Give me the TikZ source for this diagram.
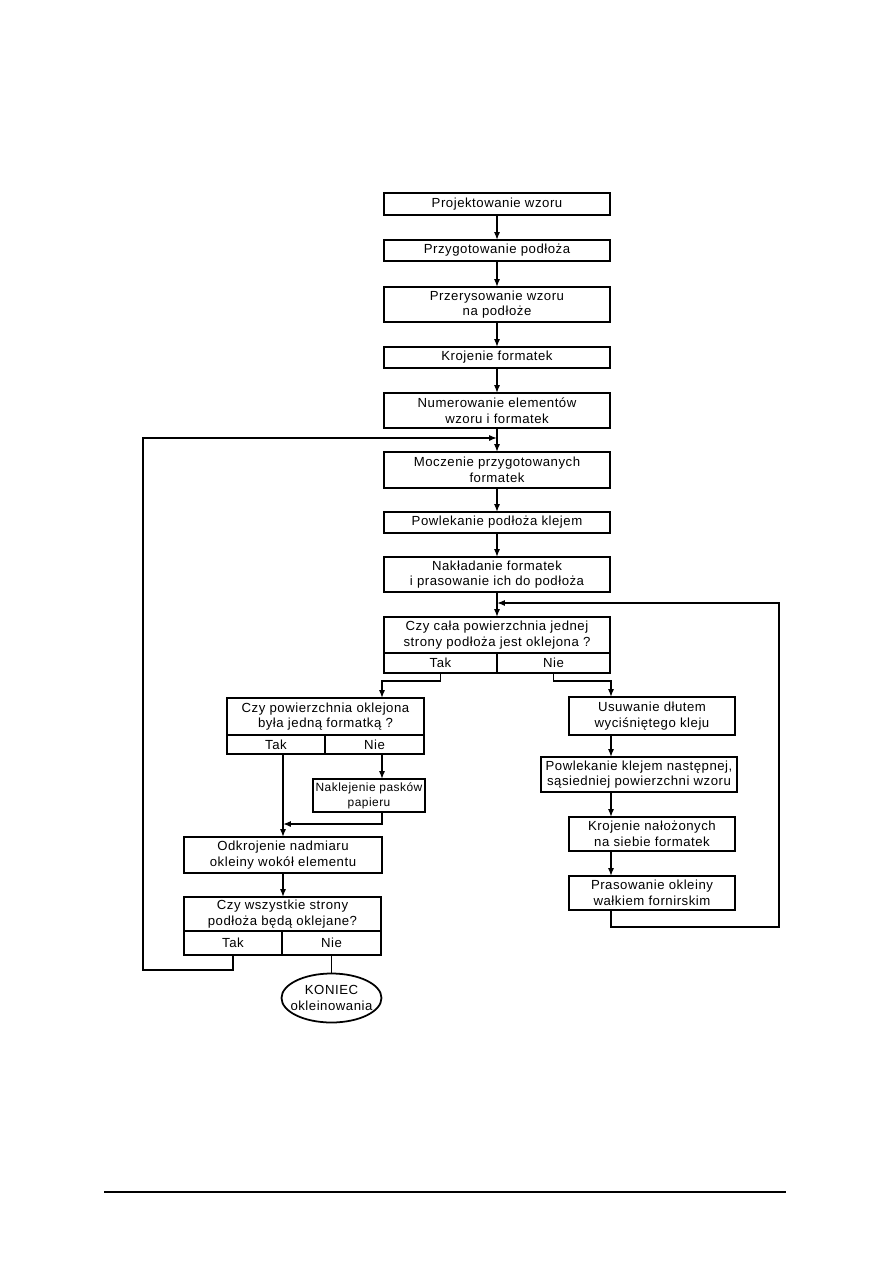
\documentclass[tikz,border=0pt]{standalone}
\usepackage{fontspec}
\setmainfont[LetterSpace=4]{Liberation Sans}
\usepackage{tikz}
\usetikzlibrary{shapes.geometric, arrows.meta, positioning, calc}

\newcommand{\lett}{\fontsize{7.5}{9}\selectfont}
\newcommand{\smalllett}{\fontsize{6.8}{8.5}\selectfont}

\begin{document}
\begin{tikzpicture}[x=0.02cm, y=-0.02cm,
    box/.style={rectangle, draw, line width=1.2pt, inner xsep=1pt, inner ysep=0pt, outer sep=0pt, align=center, font=\lett},
    endbox/.style={ellipse, draw, line width=1pt, inner xsep=-5pt, inner ysep=0pt, outer sep=0pt, align=center, font=\lett},
    link/.style={line width=0.9pt},
    arr/.style={link, -{Latex[length=4.5pt,width=3.5pt]}}
  ]
    \useasboundingbox (0,0) rectangle (893,1263);

    % main column
    \node[box, minimum width=4.52cm, minimum height=0.44cm] (proj) at (497,204) {Projektowanie wzoru};
    \node[box, minimum width=4.52cm, minimum height=0.42cm] (przyg) at (497,250.5) {Przygotowanie podłoża};
    \node[box, minimum width=4.52cm, minimum height=0.70cm] (przer) at (497,304.5) {Przerysowanie wzoru\\na podłoże};
    \node[box, minimum width=4.52cm, minimum height=0.42cm] (kroj) at (497,357.5) {Krojenie formatek};
    \node[box, minimum width=4.52cm, minimum height=0.70cm] (numer) at (497,410.5) {Numerowanie elementów\\wzoru i formatek};
    \node[box, minimum width=4.52cm, minimum height=0.72cm] (mocz) at (497,470) {Moczenie przygotowanych\\formatek};
    \node[box, minimum width=4.52cm, minimum height=0.42cm] (powl) at (497,522.5) {Powlekanie podłoża klejem};
    \node[box, minimum width=4.52cm, minimum height=0.70cm] (nakl) at (497,574.5) {Nakładanie formatek\\i prasowanie ich do podłoża};
    \node[box, minimum width=4.52cm, minimum height=0.72cm] (czy1) at (497,635) {Czy cała powierzchnia jednej\\strony podłoża jest oklejona ?};
    \node[box, minimum width=2.26cm, minimum height=0.40cm] (tak1) at (440.5,663) {Tak};
    \node[box, minimum width=2.26cm, minimum height=0.40cm] (nie1) at (553.5,663) {Nie};

    % left branch
    \node[box, minimum width=3.94cm, minimum height=0.74cm] (czy2) at (325.5,716.5) {Czy powierzchnia oklejona\\była jedną formatką ?};
    \node[box, minimum width=1.96cm, minimum height=0.38cm] (tak2) at (276,744.5) {Tak};
    \node[box, minimum width=1.98cm, minimum height=0.38cm] (nie2) at (374.5,744.5) {Nie};
    \node[box, minimum width=2.24cm, minimum height=0.66cm, font=\smalllett] (pask) at (369,795.5) {Naklejenie pasków\\papieru};
    \node[box, minimum width=3.96cm, minimum height=0.72cm] (odkr) at (283,855) {Odkrojenie nadmiaru\\okleiny wokół elementu};
    \node[box, minimum width=3.94cm, minimum height=0.68cm] (czy3) at (282.5,914) {Czy wszystkie strony\\podłoża będą oklejane?};
    \node[box, minimum width=1.96cm, minimum height=0.48cm] (tak3) at (233,943) {Tak};
    \node[box, minimum width=1.98cm, minimum height=0.48cm] (nie3) at (331.5,943) {Nie};
    \node[endbox, minimum width=2.0cm, minimum height=0.98cm] (koniec) at (331.5,998) {KONIEC\\okleinowania};

    % right branch
    \node[box, minimum width=3.32cm, minimum height=0.76cm] (usun) at (652,716) {Usuwanie dłutem\\wyciśniętego kleju};
    \node[box, minimum width=3.92cm, minimum height=0.70cm] (powk) at (639,774.5) {Powlekanie klejem następnej,\\sąsiedniej powierzchni wzoru};
    \node[box, minimum width=3.32cm, minimum height=0.68cm] (kron) at (652,834) {Krojenie nałożonych\\na siebie formatek};
    \node[box, minimum width=3.32cm, minimum height=0.68cm] (pras) at (652,893) {Prasowanie okleiny\\wałkiem fornirskim};

    % connectors
    \draw[arr] (proj) -- (przyg);
    \draw[arr] (przyg) -- (przer);
    \draw[arr] (przer) -- (kroj);
    \draw[arr] (kroj) -- (numer);
    \draw[arr] (numer) -- (mocz);
    \draw[arr] (mocz) -- (powl);
    \draw[arr] (powl) -- (nakl);
    \draw[arr] (nakl) -- (czy1);
    \draw[arr] (tak1.south) -- ++(0,8) -| ($(czy2.north)+(56.5,0)$);
    \draw[arr] (nie1.south) -- ++(0,8) -| ($(usun.north)+(-41,0)$);
    \draw[arr] ($(nie2.south)+(7.5,0)$) -- ($(pask.north)+(13,0)$);
    \draw[arr] ($(tak2.south)+(7,0)$) -- (odkr.north);
    \draw[arr] ($(pask.south)+(13,0)$) |- ($(odkr.north)+(0,-13)$);
    \draw[arr] (odkr.south) -- (odkr.south |- czy3.north);
    \draw[arr] (tak3.south) -- ++(0,15) -- ++(-90,0) |- ($(mocz.north)+(0,-14)$);
    \draw[link] (nie3) -- (koniec);
    \draw[arr] ($(usun.south)+(-41,0)$) -- ($(powk.north)+(-28,0)$);
    \draw[arr] ($(powk.south)+(-28,0)$) -- ($(kron.north)+(-41,0)$);
    \draw[arr] ($(kron.south)+(-41,0)$) -- ($(pras.north)+(-41,0)$);
    \draw[arr] ($(pras.south)+(-41,0)$) -- ++(0,17) -- ++(168,0) |- ($(czy1.north)+(0,-14)$);

    % page rule
    \draw[line width=0.9pt] (104,1192) -- (786,1192);
  \end{tikzpicture}
\end{document}
